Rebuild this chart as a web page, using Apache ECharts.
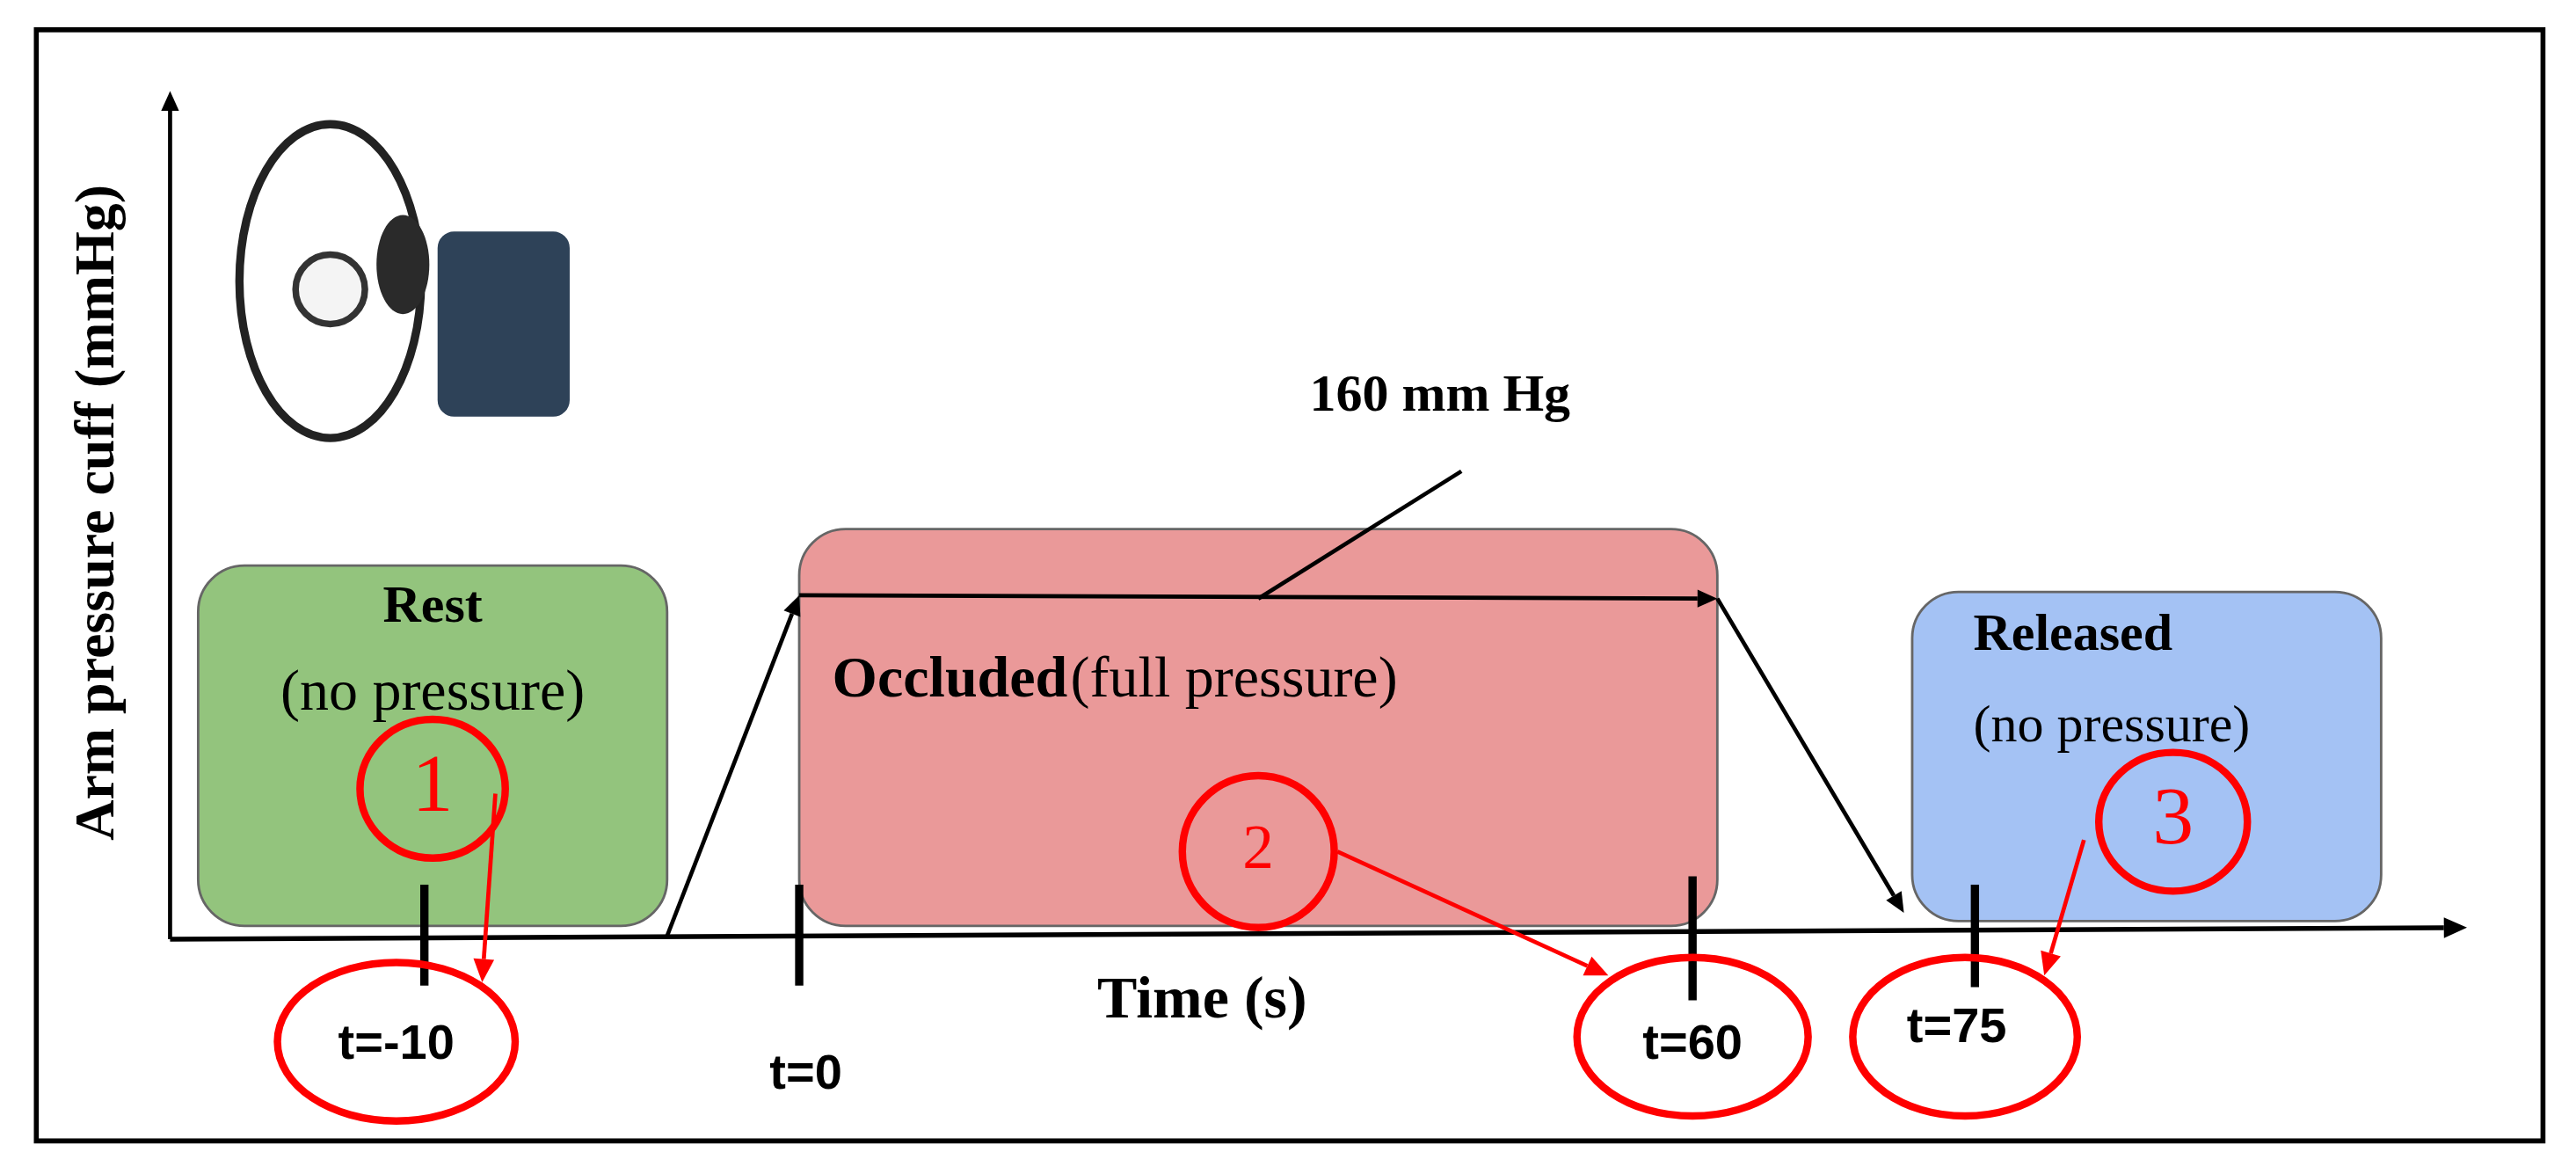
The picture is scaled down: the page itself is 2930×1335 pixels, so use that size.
<!DOCTYPE html>
<html>
<head>
    <meta charset="utf-8">
    <title>Arm pressure cuff protocol</title>
    <script src="https://cdn.jsdelivr.net/npm/echarts@6/dist/echarts.min.js"></script>
    <style>
        html, body { margin: 0; padding: 0; background: #fff; }
        #main { width: 2930px; height: 1335px; }
    </style>
</head>
<body>
    <div id="main"></div>
</body>
<script type="text/javascript">
    // diagram space: x 0..1560, y 0..710 (top down)
    var phaseBoxes = [
        // [x0, y0, x1, y1, fill]
        [120, 342, 404, 560, '#93c47d'],
        [484, 320, 1040, 560, '#ea9999'],
        [1158, 358, 1442, 557, '#a4c2f4']
    ];
    var pressurePath = [[404, 566], [484, 360], [1040, 362], [1153, 552]];
    var tickX = [257, 484, 1025, 1196];
    var tickTop = [535, 535, 530, 535];
    var tickBottom = [596, 596, 605, 597];
    var tickLabels = ['t=-10', 't=0', 't=60', 't=75'];
    var tickLabelPos = [[240, 632], [488, 650], [1025, 632], [1185, 622]];
    var redCircles = [
        // [cx, cy, rx, ry]
        [262, 477, 44, 42], [762, 515, 46, 46], [1316, 497, 45, 42],
        [240, 630, 72, 48], [1025, 627, 70, 48], [1190, 627, 68, 48]
    ];
    var circleNumbers = ['1', '2', '3'];
    var redArrows = [[[300, 480], [292, 594]], [[810, 515], [974, 590]], [[1262, 508], [1238, 590]]];

    var S = 2930 / 1560;
    var serif = '"Liberation Serif", "DejaVu Serif", serif';
    var sans = '"Liberation Sans", Arial, sans-serif';

    function arrowShapes(api, p0, p1, color, w, head) {
        var a = api.coord(p0), b = api.coord(p1);
        var ang = Math.atan2(b[1] - a[1], b[0] - a[0]);
        var h = head * S, hw = head * 0.45 * S;
        var bx = b[0] - h * Math.cos(ang), by = b[1] - h * Math.sin(ang);
        return [
            { type: 'line', shape: { x1: a[0], y1: a[1], x2: bx, y2: by }, style: { stroke: color, lineWidth: w * S } },
            { type: 'polygon', shape: { points: [b, [bx + hw * Math.sin(ang), by - hw * Math.cos(ang)], [bx - hw * Math.sin(ang), by + hw * Math.cos(ang)]] }, style: { fill: color } }
        ];
    }

    var myChart = echarts.init(document.getElementById('main'));

    var option = {
        animation: false,
        grid: { left: 0, right: 0, top: 0, bottom: 0 },
        xAxis: { type: 'value', min: 0, max: 1560, show: false },
        yAxis: { type: 'value', min: 0, max: 710, inverse: true, show: false },
        series: [{
            type: 'custom',
            coordinateSystem: 'cartesian2d',
            data: [0],
            renderItem: function (params, api) {
                var c = [];
                var P = function (x, y) { return api.coord([x, y]); };
                // frame
                var f0 = P(22, 18), f1 = P(1540, 690);
                c.push({ type: 'rect', shape: { x: f0[0], y: f0[1], width: f1[0] - f0[0], height: f1[1] - f0[1] }, style: { fill: 'none', stroke: '#000', lineWidth: 3 * S } });
                // cuff picture (simple)
                var r0 = P(265, 140), r1 = P(345, 252);
                c.push({ type: 'ellipse', shape: { cx: P(200, 170)[0], cy: P(200, 170)[1], rx: 55 * S, ry: 95 * S }, style: { fill: 'none', stroke: '#222', lineWidth: 5 * S } });
                c.push({ type: 'rect', shape: { x: r0[0], y: r0[1], width: r1[0] - r0[0], height: r1[1] - r0[1], r: 10 * S }, style: { fill: '#2e4258' } });
                c.push({ type: 'ellipse', shape: { cx: P(244, 160)[0], cy: P(244, 160)[1], rx: 16 * S, ry: 30 * S }, style: { fill: '#2a2a2a' } });
                c.push({ type: 'circle', shape: { cx: P(200, 175)[0], cy: P(200, 175)[1], r: 21 * S }, style: { fill: '#f4f4f4', stroke: '#333', lineWidth: 4 * S } });
                // boxes
                phaseBoxes.forEach(function (b) {
                    var a = P(b[0], b[1]), d = P(b[2], b[3]);
                    c.push({ type: 'rect', shape: { x: a[0], y: a[1], width: d[0] - a[0], height: d[1] - a[1], r: 28 * S }, style: { fill: b[4], stroke: '#666', lineWidth: 1.5 * S } });
                });
                // axes
                c = c.concat(arrowShapes(api, [103, 568], [103, 55], '#000', 2.5, 12));
                c = c.concat(arrowShapes(api, [103, 568], [1494, 561], '#000', 3, 14));
                // pressure profile
                for (var i = 0; i < pressurePath.length - 1; i++) {
                    c = c.concat(arrowShapes(api, pressurePath[i], pressurePath[i + 1], '#000', 2.5, 12));
                }
                var l0 = P(885, 285), l1 = P(762, 362);
                c.push({ type: 'line', shape: { x1: l0[0], y1: l0[1], x2: l1[0], y2: l1[1] }, style: { stroke: '#000', lineWidth: 2.5 * S } });
                // ticks
                tickX.forEach(function (x, k) {
                    var a = P(x, tickTop[k]), d = P(x, tickBottom[k]);
                    c.push({ type: 'line', shape: { x1: a[0], y1: a[1], x2: d[0], y2: d[1] }, style: { stroke: '#000', lineWidth: 5 * S } });
                    var p = P(tickLabelPos[k][0], tickLabelPos[k][1]);
                    c.push({ type: 'text', x: p[0], y: p[1], style: { text: tickLabels[k], font: 'bold ' + Math.round(30 * S) + 'px ' + sans, fill: '#000', align: 'center', verticalAlign: 'middle' } });
                });
                // red circles
                redCircles.forEach(function (e, k) {
                    var p = P(e[0], e[1]);
                    c.push({ type: 'ellipse', shape: { cx: p[0], cy: p[1], rx: e[2] * S, ry: e[3] * S }, style: { fill: 'none', stroke: '#ff0000', lineWidth: 4.5 * S } });
                    if (k < 3) {
                        c.push({ type: 'text', x: p[0], y: p[1], style: { text: circleNumbers[k], font: (k === 1 ? 38 : 50) * S + 'px ' + serif, fill: '#ff0000', align: 'center', verticalAlign: 'middle' } });
                    }
                });
                redArrows.forEach(function (r) { c = c.concat(arrowShapes(api, r[0], r[1], '#ff0000', 2.5, 14)); });
                // texts
                var T = function (s, x, y, size, bold, align) {
                    var p = P(x, y);
                    c.push({ type: 'text', x: p[0], y: p[1], style: { text: s, font: (bold ? 'bold ' : '') + Math.round(size * S) + 'px ' + serif, fill: '#000', align: align || 'center', verticalAlign: 'middle' } });
                };
                T('Rest', 262, 368, 32, true);
                T('(no pressure)', 262, 420, 35, false);
                c.push({ type: 'text', x: P(504, 412)[0], y: P(504, 412)[1], style: { rich: { b: { font: 'bold ' + Math.round(35 * S) + 'px ' + serif }, n: { font: Math.round(35 * S) + 'px ' + serif } }, text: '{b|Occluded} {n|(full pressure)}', fill: '#000', align: 'left', verticalAlign: 'middle' } });
                T('Released', 1195, 385, 32, true, 'left');
                T('(no pressure)', 1195, 440, 32, false, 'left');
                T('160 mm Hg', 872, 240, 32, true);
                T('Time (s)', 728, 606, 36, true);
                var yl = P(60, 310);
                c.push({ type: 'text', x: yl[0], y: yl[1], rotation: Math.PI / 2, style: { text: 'Arm pressure cuff (mmHg)', font: 'bold ' + Math.round(34 * S) + 'px ' + serif, fill: '#000', align: 'center', verticalAlign: 'middle' } });
                return { type: 'group', children: c };
            }
        }]
    };

    myChart.setOption(option);
</script>
</html>
